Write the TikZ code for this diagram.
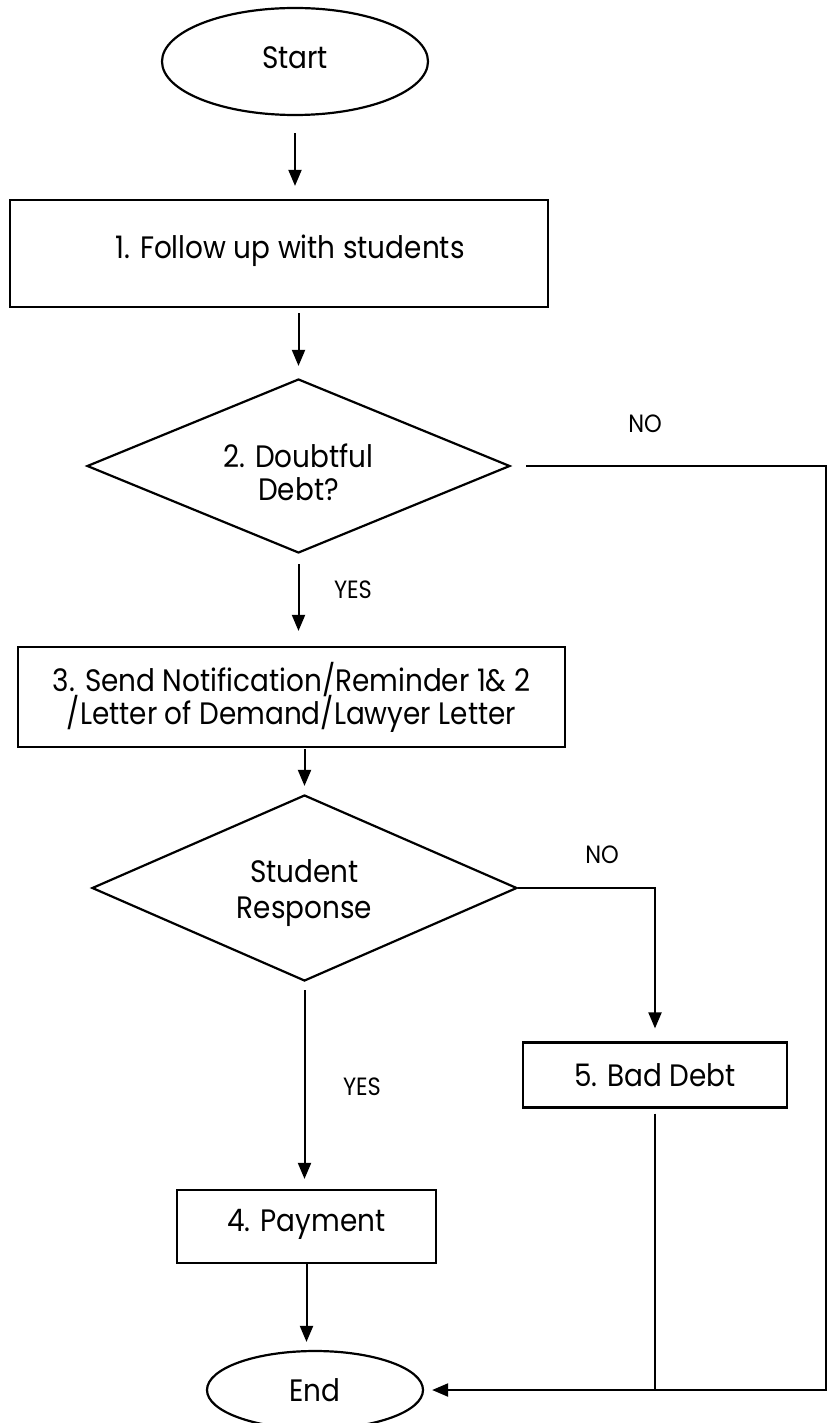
\documentclass[tikz,border=0pt]{standalone}
\usepackage{fontspec}
\setmainfont{Poppins}
\usepackage{graphicx}
\usetikzlibrary{shapes.geometric,arrows.meta}
\newcommand{\sx}[1]{\scalebox{0.9}[1]{#1}}
\newcommand{\twolines}[4]{\raisebox{#1}[\height][\depth]{\begin{tabular}{@{}c@{}}\smash{\sx{#3}}\\[#2]\smash{\sx{#4}}\end{tabular}}}
\begin{document}
\begin{tikzpicture}[x=1pt,y=-1pt,
  every node/.style={font=\fontsize{31}{34}\selectfont, inner sep=0pt},
  base/.style={draw, line width=2.2pt},
  oval/.style={base, ellipse},
  proc/.style={base, rectangle},
  dec/.style={base, diamond, aspect=2.3},
  lbl/.style={font=\fontsize{25}{28}\selectfont},
  flow/.style={line width=2pt, -{Triangle[length=16pt,width=13pt]}},
  wire/.style={line width=2pt}]
\useasboundingbox (0,0) rectangle (832,1423);

\node[oval, minimum width=266pt, minimum height=107pt] (start) at (295,61.5)
  {\raisebox{4pt}[\height][\depth]{\sx{Start}}};
\node[proc, minimum width=538pt, minimum height=107pt] (n1) at (279,253.5)
  {\hspace*{22pt}\raisebox{3pt}[\height][\depth]{\sx{1. Follow up with students}}};
\node[dec, minimum width=423pt, minimum height=174pt] (d2) at (298.5,466)
  {\twolines{-11pt}{-1pt}{2. Doubtful}{Debt?}};
\node[proc, minimum width=547pt, minimum height=100pt] (n3) at (291.5,697)
  {\twolines{-4pt}{-1pt}{3. Send Notification/Reminder 1\& 2}{/Letter of Demand/Lawyer Letter}};
\node[dec, minimum width=425pt, minimum height=186pt] (d4) at (304.5,888)
  {\twolines{-6pt}{2pt}{Student}{Response}};
\node[proc, minimum width=264pt, minimum height=65pt] (n5) at (655,1075) {\sx{5. Bad Debt}};
\node[proc, minimum width=259pt, minimum height=73pt] (n4) at (306.5,1226.5)
  {\raisebox{2pt}[\height][\depth]{\sx{4. Payment}}};
\node[oval, minimum width=216pt, minimum height=78pt] (end) at (315,1390) {\sx{End}};

\coordinate (rt) at (826,0);

\draw[flow, shorten <=17pt, shorten >=13pt] (start.south) -- (start.south |- n1.north);
\draw[flow, shorten <=5pt, shorten >=12pt] (d2.north |- n1.south) -- (d2.north);
\draw[flow, shorten <=10pt, shorten >=15pt] (d2.south) -- (d2.south |- n3.north);
\draw[flow, shorten <=1pt, shorten >=8pt] (d4.north |- n3.south) -- (d4.north);
\draw[flow, shorten >=13pt] (d4.east) -- (d4.east -| n5.north) -- (n5.north);
\draw[flow, shorten <=8pt, shorten >=10pt] (d4.south) -- (d4.south |- n4.north);
\draw[flow, shorten >=8pt] (n4.south) -- (n4.south |- end.north);
\draw[wire, shorten <=5pt] (n5.south) -- (n5.south |- end.east);
\draw[flow, shorten <=15pt, shorten >=8pt] (d2.east) -- (d2.east -| rt) |- (end.east);

\node[lbl] (no1) at (645,424) {\sx{NO}};
\node[lbl] (yes1) at (353,590) {\sx{YES}};
\node[lbl] (no2) at (602,855) {\sx{NO}};
\node[lbl] (yes2) at (362,1087) {\sx{YES}};
\end{tikzpicture}
\end{document}
